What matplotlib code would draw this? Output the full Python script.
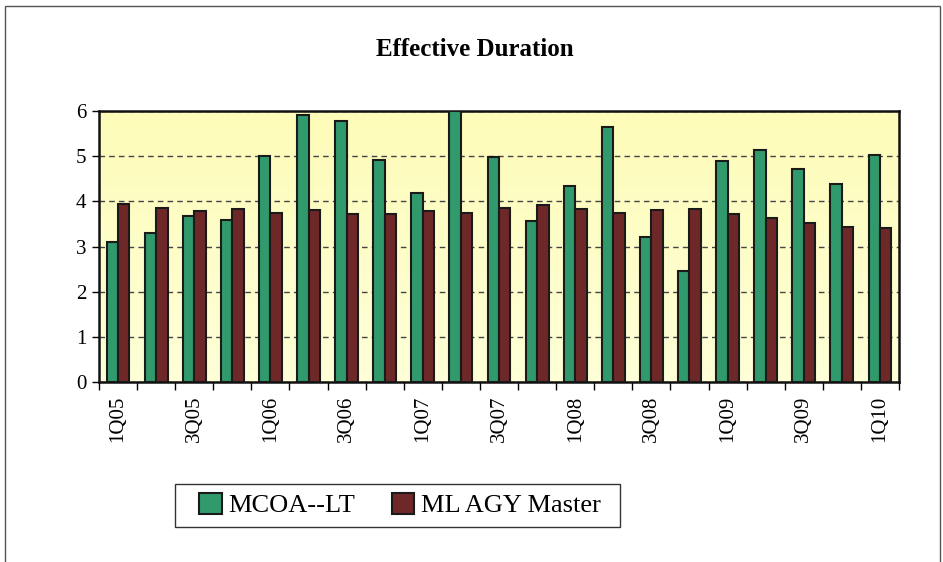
import matplotlib
matplotlib.use("Agg")
import matplotlib.pyplot as plt
import numpy as np
from matplotlib.patches import Rectangle, Patch
from matplotlib.colors import LinearSegmentedColormap

quarters = ["1Q05", "2Q05", "3Q05", "4Q05", "1Q06", "2Q06", "3Q06", "4Q06",
            "1Q07", "2Q07", "3Q07", "4Q07", "1Q08", "2Q08", "3Q08", "4Q08",
            "1Q09", "2Q09", "3Q09", "4Q09", "1Q10"]
mcoa_lt = [3.10, 3.29, 3.68, 3.59, 5.01, 5.91, 5.77, 4.92, 4.18, 6.00, 4.99,
           3.57, 4.34, 5.65, 3.22, 2.46, 4.90, 5.14, 4.72, 4.38, 5.02]
ml_agy = [3.93, 3.85, 3.79, 3.82, 3.75, 3.81, 3.71, 3.73, 3.79, 3.75, 3.86,
          3.91, 3.84, 3.75, 3.80, 3.84, 3.72, 3.63, 3.51, 3.43, 3.40]
series_names = ["MCOA--LT", "ML AGY Master"]
title = "Effective Duration"

green = "#319a6c"
maroon = "#6e2828"

plt.rcParams['font.family'] = ['Liberation Serif', 'DejaVu Serif']

fig = plt.figure(figsize=(9.43, 5.62), dpi=100)
fig.patch.set_facecolor("white")

# outer frame (bottom edge runs off the image)
fig.patches.append(Rectangle((5/943, -0.02), 935/943, 1.02 - 6/562,
                             transform=fig.transFigure, fill=False,
                             edgecolor="#555555", linewidth=1.0))

ax = fig.add_axes([99/943, 1-382/562, 800/943, 271/562])

grad = np.linspace(0, 1, 256).reshape(-1, 1)
cmap = LinearSegmentedColormap.from_list("bg", ["#ffffd8", "#fdfcb8"])
ax.imshow(grad, extent=[-0.5, 20.5, 0, 6], aspect="auto", cmap=cmap,
          origin="lower", zorder=0)

x = np.arange(len(quarters))
w = 0.3
ax.bar(x - w/2, mcoa_lt, width=w, color=green, edgecolor="#1a1a1a",
       linewidth=1.5, zorder=3, label=series_names[0])
ax.bar(x + w/2, ml_agy, width=w, color=maroon, edgecolor="#1a1a1a",
       linewidth=1.5, zorder=3, label=series_names[1])

ax.set_xlim(-0.5, 20.5)
ax.set_ylim(0, 6)
ax.set_yticks(range(0, 7))
ax.yaxis.grid(True, linestyle=(0, (4, 3)), color="#444444", linewidth=1.0, zorder=1)
ax.tick_params(axis="y", labelsize=15, length=5, width=1, direction="out", pad=4)

ax.set_xticks(np.arange(-0.5, 21, 1))
ax.set_xticklabels([])
ax.tick_params(axis="x", which="major", length=6, width=1, direction="out")
ax.set_xticks(x[::2], minor=True)
ax.set_xticklabels(quarters[::2], minor=True, rotation=90, fontsize=15)
ax.tick_params(axis="x", which="minor", length=0, pad=10)

for s in ax.spines.values():
    s.set_linewidth(1.8)
    s.set_color("#111111")

fig.text(475/943, 1-50/562, title, ha="center", va="center",
         fontsize=18, fontweight="bold")

# legend box drawn separately
fig.patches.append(Rectangle((175/943, 1-527/562), 445/943, 43/562,
                             transform=fig.transFigure, fill=False,
                             edgecolor="#333333", linewidth=1.0))
handles = [Patch(facecolor=green, edgecolor="#1a1a1a", linewidth=1.5),
           Patch(facecolor=maroon, edgecolor="#1a1a1a", linewidth=1.5)]
leg = fig.legend(handles, series_names, loc="center",
                 bbox_to_anchor=(400/943, 1-505/562), ncol=2, fontsize=19,
                 frameon=False,
                 handlelength=0.85, handleheight=0.85, handletextpad=0.25,
                 columnspacing=1.4, borderpad=0.3, borderaxespad=0)

fig.savefig("out.png", dpi=100)
